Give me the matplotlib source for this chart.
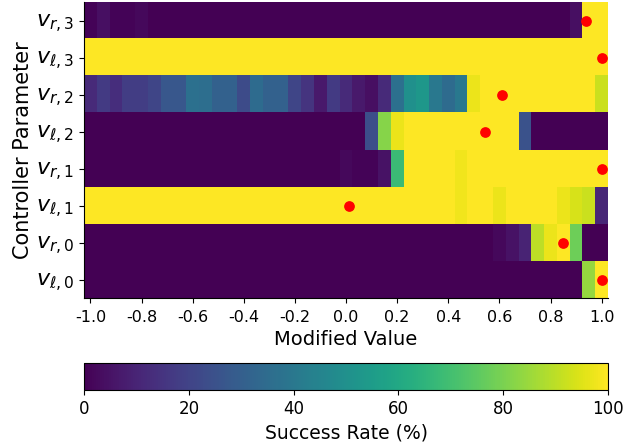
import numpy as np
import matplotlib
matplotlib.use("Agg")
import matplotlib.pyplot as plt

plt.rcParams['axes.unicode_minus'] = False

# modified values (-1.0 .. 1.0 in 0.05 steps)
x_values = np.round(np.arange(-1.0, 1.0001, 0.05), 2)
x_ticks = [-1.0, -0.8, -0.6, -0.4, -0.2, 0.0, 0.2, 0.4, 0.6, 0.8, 1.0]
x_ticklabels = ['-1.0', '-0.8', '-0.6', '-0.4', '-0.2', '0.0', '0.2', '0.4', '0.6', '0.8', '1.0']

row_labels = [r'$v_{\ell,0}$', r'$v_{r,0}$', r'$v_{\ell,1}$', r'$v_{r,1}$',
              r'$v_{\ell,2}$', r'$v_{r,2}$', r'$v_{\ell,3}$', r'$v_{r,3}$']

# success rate (%) per parameter, one value per modified value
v_l0 = [0, 0, 0, 0, 0, 0, 0, 0, 0, 0, 0, 0, 0, 0, 0, 0, 0, 0, 0, 0,
        0, 0, 0, 0, 0, 0, 0, 0, 0, 0, 0, 0, 0, 0, 0, 0, 0, 0, 0, 84, 100]
v_r0 = [0, 0, 0, 0, 0, 0, 0, 0, 0, 0, 0, 0, 0, 0, 0, 0, 0, 0, 0, 0,
        0, 0, 0, 0, 0, 0, 0, 0, 0, 0, 0, 0, 2, 5, 10, 90, 97, 100, 78, 0, 0]
v_l1 = [100, 100, 100, 100, 100, 100, 100, 100, 100, 100, 100, 100, 100, 100, 100, 100, 100, 100, 100, 100,
        100, 100, 100, 100, 100, 100, 100, 100, 100, 98, 100, 100, 97, 100, 100, 100, 100, 97, 94, 92, 11]
v_r1 = [0, 0, 0, 0, 0, 0, 0, 0, 0, 0, 0, 0, 0, 0, 0, 0, 0, 0, 0, 0,
        2, 1, 1, 5, 68, 100, 100, 100, 100, 98, 100, 100, 100, 100, 100, 100, 100, 100, 100, 100, 100]
v_l2 = [0, 0, 0, 0, 0, 0, 0, 0, 0, 0, 0, 0, 0, 0, 0, 0, 0, 0, 0, 0,
        0, 0, 24, 82, 97, 100, 100, 100, 100, 100, 100, 100, 100, 100, 25, 0, 0, 0, 0, 0, 0]
v_r2 = [12, 17, 13, 18, 18, 21, 27, 27, 37, 36, 31, 31, 23, 35, 31, 31, 21, 15, 7, 17,
        12, 7, 4, 12, 37, 50, 53, 40, 35, 40, 97, 100, 100, 100, 100, 100, 100, 100, 100, 100, 92]
v_l3 = [100, 100, 100, 100, 100, 100, 100, 100, 100, 100, 100, 100, 100, 100, 100, 100, 100, 100, 100, 100,
        100, 100, 100, 100, 100, 100, 100, 100, 100, 100, 100, 100, 100, 100, 100, 100, 100, 100, 100, 100, 100]
v_r3 = [1, 4, 1, 1, 2, 0, 0, 0, 0, 0, 0, 0, 0, 0, 0, 0, 0, 0, 0, 0,
        0, 0, 0, 0, 0, 0, 0, 0, 0, 0, 0, 0, 0, 0, 0, 0, 0, 0, 4, 100, 100]

# original (unmodified) parameter values, bottom row first
orig_values = [1.0, 0.85, 0.01, 1.0, 0.545, 0.61, 1.0, 0.94]

data = np.array([v_l0, v_r0, v_l1, v_r1, v_l2, v_r2, v_l3, v_r3])

fig = plt.figure(figsize=(6.38, 4.47), dpi=100)
ax = fig.add_axes([0.1317, 0.3333, 0.8213, 0.6622])

step = x_values[1] - x_values[0]
im = ax.imshow(data, cmap='viridis', vmin=0, vmax=100, origin='lower',
               aspect='auto', interpolation='nearest',
               extent=(x_values[0] - step / 2, x_values[-1] + step / 2,
                       -0.5, len(row_labels) - 0.5))

ax.scatter(orig_values, np.arange(len(row_labels)), color='red', s=45, zorder=3)

ax.set_yticks(np.arange(len(row_labels)))
ax.set_yticklabels(row_labels, fontsize=16)
ax.set_xticks(x_ticks)
ax.set_xticklabels(x_ticklabels, fontsize=11.5)
ax.tick_params(axis='x', pad=5)
ax.set_xlabel('Modified Value', fontsize=14, labelpad=4)
ax.set_ylabel('Controller Parameter', fontsize=15, labelpad=2)
ax.spines['top'].set_visible(False)
ax.spines['right'].set_visible(False)

cax = fig.add_axes([0.1317, 0.1275, 0.8213, 0.06])
cb = fig.colorbar(im, cax=cax, orientation='horizontal')
cb.set_ticks([0, 20, 40, 60, 80, 100])
cb.ax.tick_params(labelsize=12)
cb.set_label('Success Rate (%)', fontsize=13.5)

fig.savefig('out.png', dpi=100)
